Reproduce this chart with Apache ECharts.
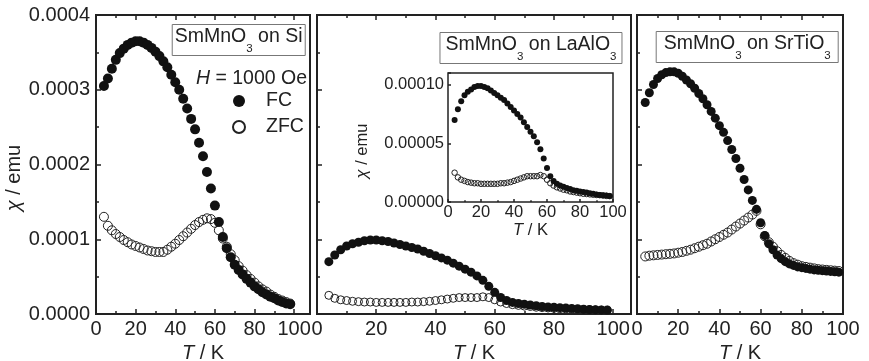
<!DOCTYPE html>
<html>
<head>
<meta charset="utf-8">
<script src="https://cdn.jsdelivr.net/npm/echarts@6/dist/echarts.min.js"></script>
<style>
  html, body { margin: 0; padding: 0; background: #fff; }
  #chart { width: 869px; height: 361px; }
</style>
</head>
<body>
<div id="chart"></div>
<script>
// Temperature (K)
const temps = [4, 6, 8, 10, 12, 14, 16, 18, 20, 22, 24, 26, 28, 30, 32, 34, 36, 38, 40, 42, 44, 46, 48, 50,
               52, 54, 56, 58, 60, 62, 64, 66, 68, 70, 72, 74, 76, 78, 80, 82, 84, 86, 88, 90, 92, 94, 96, 98];

// chi values in units of 1e-4 emu
const fcSi = [3.05, 3.15, 3.28, 3.40, 3.49, 3.55, 3.60, 3.63, 3.65, 3.65, 3.63, 3.60, 3.56, 3.51, 3.45, 3.38,
              3.30, 3.20, 3.10, 3.00, 2.88, 2.75, 2.61, 2.47, 2.29, 2.11, 1.90, 1.68, 1.45, 1.23, 1.03, 0.88,
              0.76, 0.66, 0.59, 0.53, 0.47, 0.42, 0.37, 0.33, 0.29, 0.26, 0.23, 0.21, 0.18, 0.16, 0.14, 0.13];
const zfcSi = [1.30, 1.18, 1.12, 1.07, 1.03, 0.99, 0.96, 0.93, 0.91, 0.89, 0.87, 0.85, 0.84, 0.83, 0.83, 0.83,
               0.86, 0.90, 0.94, 0.99, 1.04, 1.09, 1.14, 1.19, 1.23, 1.26, 1.28, 1.27, 1.22, 1.12, 1.01, 0.90,
               0.80, 0.72, 0.64, 0.58, 0.52, 0.47, 0.42, 0.37, 0.33, 0.30, 0.26, 0.23, 0.20, 0.18, 0.16, 0.14];
const fcLaAlO3 = [0.70, 0.79, 0.86, 0.91, 0.94, 0.96, 0.98, 0.99, 0.99, 0.98, 0.97, 0.95, 0.93, 0.91, 0.89, 0.87,
                  0.84, 0.81, 0.78, 0.75, 0.72, 0.68, 0.64, 0.60, 0.56, 0.51, 0.45, 0.37, 0.29, 0.22, 0.18, 0.155,
                  0.14, 0.13, 0.12, 0.11, 0.10, 0.095, 0.09, 0.085, 0.08, 0.075, 0.07, 0.065, 0.06, 0.058, 0.055, 0.052];
const zfcLaAlO3 = [0.25, 0.21, 0.19, 0.18, 0.17, 0.165, 0.16, 0.16, 0.155, 0.155, 0.155, 0.155, 0.155, 0.155, 0.16, 0.16,
                   0.165, 0.17, 0.18, 0.19, 0.20, 0.21, 0.22, 0.22, 0.22, 0.22, 0.23, 0.22, 0.19, 0.16, 0.14, 0.125,
                   0.115, 0.105, 0.10, 0.09, 0.085, 0.08, 0.075, 0.07, 0.068, 0.065, 0.062, 0.06, 0.058, 0.055, 0.052, 0.05];
const fcSrTiO3 = [2.83, 2.96, 3.07, 3.15, 3.20, 3.23, 3.24, 3.24, 3.22, 3.18, 3.13, 3.08, 3.02, 2.95, 2.88, 2.80,
                  2.71, 2.62, 2.52, 2.43, 2.32, 2.20, 2.08, 1.95, 1.80, 1.66, 1.52, 1.40, 1.22, 1.05, 0.94, 0.86,
                  0.79, 0.74, 0.70, 0.67, 0.65, 0.63, 0.62, 0.61, 0.60, 0.59, 0.585, 0.58, 0.575, 0.57, 0.565, 0.56];
const zfcSrTiO3 = [0.77, 0.78, 0.785, 0.79, 0.795, 0.80, 0.805, 0.81, 0.82, 0.83, 0.845, 0.86, 0.88, 0.90, 0.92, 0.94,
                   0.97, 1.00, 1.03, 1.06, 1.09, 1.13, 1.17, 1.21, 1.25, 1.29, 1.33, 1.38, 1.20, 1.04, 0.96, 0.90,
                   0.84, 0.79, 0.75, 0.71, 0.68, 0.66, 0.64, 0.63, 0.62, 0.61, 0.60, 0.595, 0.59, 0.585, 0.58, 0.575];

const UNIT = 1e-4;
const xTickLabels = ['0', '20', '40', '60', '80', '100'];

const FONT = "'Liberation Sans', Arial, Helvetica, sans-serif";
const INK = '#222';

function pairs(vals) { return temps.map((t, i) => [t, vals[i] * UNIT]); }

const tickLine = { color: INK, width: 1.5 };

function xLabelFmt(v) { const s = String(Math.round(v)); return (xTickLabels.indexOf(s) >= 0 && Math.abs(v - Math.round(v)) < 1e-9) ? s : ''; }

function xBottom(g, max, fs, tickLen, margin, nameGap) {
  return {
    type: 'value', gridIndex: g, min: 0, max: max, interval: 20, position: 'bottom',
    axisLine: { show: false }, splitLine: { show: false },
    axisTick: { show: true, inside: true, length: tickLen, lineStyle: tickLine },
    minorTick: { show: true, splitNumber: 2, length: tickLen * 0.6, lineStyle: tickLine },
    axisLabel: { show: true, margin: margin, fontSize: fs, color: INK, fontFamily: FONT, formatter: xLabelFmt },
    name: '{i|T}{n| / K}', nameLocation: 'middle', nameGap: nameGap,
    nameTextStyle: { color: INK, rich: {
      i: { fontStyle: 'italic', fontSize: fs, fontFamily: FONT, color: INK },
      n: { fontSize: fs, fontFamily: FONT, color: INK } } }
  };
}
function xTop(g, max) {
  return {
    type: 'value', gridIndex: g, min: 0, max: max, interval: 20, position: 'top',
    axisLine: { show: false }, splitLine: { show: false },
    axisTick: { show: true, inside: true, length: 5, lineStyle: tickLine },
    minorTick: { show: true, splitNumber: 2, length: 3, lineStyle: tickLine },
    axisLabel: { show: false }
  };
}
function yMain(g, showLabels) {
  const ax = {
    type: 'value', gridIndex: g, min: 0, max: 0.0004, interval: 0.0001,
    axisLine: { show: false }, splitLine: { show: false },
    axisTick: { show: true, inside: true, length: 5, lineStyle: tickLine },
    minorTick: { show: true, splitNumber: 2, length: 3, lineStyle: tickLine },
    axisLabel: { show: showLabels, margin: 6, fontSize: 20, color: INK, fontFamily: FONT,
                 formatter: v => v.toFixed(4) }
  };
  if (showLabels) {
    ax.name = '{i|χ}{n| / emu}';
    ax.nameLocation = 'middle';
    ax.nameGap = 72;
    ax.nameTextStyle = { color: INK, padding: [0, 27, 0, 0], rich: {
      i: { fontStyle: 'italic', fontSize: 20, fontFamily: FONT, color: INK },
      n: { fontSize: 20, fontFamily: FONT, color: INK } } };
  }
  return ax;
}

function boxTitle(parts, right, top, padLR) {
  let txt = '';
  parts.forEach(p => { txt += (p.sub ? '{s|' : '{m|') + p.t + '}'; });
  return {
    text: txt, right: right, top: top, padding: [0, padLR, 0, padLR],
    borderColor: '#777', borderWidth: 1, backgroundColor: '#fff',
    textStyle: { fontWeight: 'normal', rich: {
      m: { fontSize: 19.5, fontWeight: 'normal', fontFamily: FONT, color: INK, lineHeight: 31, padding: [0, 0, 6, 0] },
      s: { fontSize: 11.5, fontWeight: 'normal', fontFamily: FONT, color: INK, lineHeight: 31, padding: [19.5, 0, 0, 0] } } }
  };
}

function fcSeries(name, x, y, vals, size) {
  return { type: 'scatter', name: name, xAxisIndex: x, yAxisIndex: y, data: pairs(vals),
           symbol: 'circle', symbolSize: size, itemStyle: { color: '#111', opacity: 1 }, z: 3 };
}
function zfcSeries(name, x, y, vals, size) {
  return { type: 'scatter', name: name, xAxisIndex: x, yAxisIndex: y, data: pairs(vals),
           symbol: 'circle', symbolSize: size,
           itemStyle: { color: 'rgba(255,255,255,0)', borderColor: '#222', borderWidth: 1, opacity: 1 }, z: 2 };
}

const gridBase = { show: true, borderColor: INK, borderWidth: 2, backgroundColor: 'transparent',
                   containLabel: false, outerBoundsMode: 'none' };

const option = {
  animation: false,
  backgroundColor: '#fff',
  textStyle: { fontFamily: FONT, color: INK },
  grid: [
    Object.assign({}, gridBase, { left: 96, top: 15, width: 214, height: 299 }),
    Object.assign({}, gridBase, { left: 317, top: 15, width: 314, height: 299 }),
    Object.assign({}, gridBase, { left: 637, top: 15, width: 206, height: 299 }),
    Object.assign({}, gridBase, { borderWidth: 1.5, backgroundColor: '#fff', left: 448, top: 73, width: 165, height: 129 })
  ],
  xAxis: [
    xBottom(0, 108, 20, 5, 5, 27), xTop(0, 108),
    xBottom(1, 106, 20, 5, 5, 27), xTop(1, 106),
    xBottom(2, 100, 20, 5, 5, 27), xTop(2, 100),
    xBottom(3, 100, 16.5, 3, 2, 18)
  ],
  yAxis: [
    yMain(0, true), yMain(1, false), yMain(2, false),
    {
      type: 'value', gridIndex: 3, min: 0, max: 0.00011, interval: 0.00005,
      axisLine: { show: false }, splitLine: { show: false },
      axisTick: { show: true, inside: true, length: 3, lineStyle: tickLine },
      axisLabel: { show: true, margin: 4, fontSize: 16.5, color: INK, fontFamily: FONT,
                   formatter: v => (v > 0.000105 ? '' : v.toFixed(5)) },
      name: '{i|χ}{n| / emu}', nameLocation: 'middle', nameGap: 77,
      nameTextStyle: { color: INK, padding: [0, 27, 0, 0], rich: {
        i: { fontStyle: 'italic', fontSize: 16.5, fontFamily: FONT, color: INK },
        n: { fontSize: 16.5, fontFamily: FONT, color: INK } } }
    }
  ],
  title: [
    boxTitle([{ t: 'SmMnO' }, { t: '3', sub: true }, { t: ' on Si' }], 564, 24, 2.5),
    boxTitle([{ t: 'SmMnO' }, { t: '3', sub: true }, { t: ' on LaAlO' }, { t: '3', sub: true }], 247, 32, 5.5),
    boxTitle([{ t: 'SmMnO' }, { t: '3', sub: true }, { t: ' on SrTiO' }, { t: '3', sub: true }], 31, 31, 7.3),
    { text: '{i|H}{n| = 1000 Oe}', right: 562, top: 67, padding: 0,
      textStyle: { fontWeight: 'normal', rich: {
        i: { fontStyle: 'italic', fontWeight: 'normal', fontSize: 19.5, lineHeight: 24, fontFamily: FONT, color: INK },
        n: { fontWeight: 'normal', fontSize: 19.5, lineHeight: 24, fontFamily: FONT, color: INK } } } }
  ],
  legend: {
    data: ['FC', 'ZFC'], orient: 'vertical', left: 232, top: 91, itemGap: 6,
    itemWidth: 12, itemHeight: 12, selectedMode: false, padding: 0,
    formatter: n => '{a|' + n + '}',
    textStyle: { rich: { a: { fontSize: 19.5, fontFamily: FONT, color: INK, padding: [0, 0, 0, 16] } } }
  },
  series: [
    zfcSeries('ZFC', 0, 0, zfcSi, 9),
    fcSeries('FC', 0, 0, fcSi, 10),
    zfcSeries('ZFC LaAlO3', 2, 1, zfcLaAlO3, 8),
    fcSeries('FC LaAlO3', 2, 1, fcLaAlO3, 9),
    zfcSeries('ZFC SrTiO3', 4, 2, zfcSrTiO3, 9),
    fcSeries('FC SrTiO3', 4, 2, fcSrTiO3, 9),
    zfcSeries('ZFC inset', 6, 3, zfcLaAlO3, 5.5),
    fcSeries('FC inset', 6, 3, fcLaAlO3, 6)
  ]
};

const chart = echarts.init(document.getElementById('chart'), null, { renderer: 'canvas' });
chart.setOption(option);
</script>
</body>
</html>
